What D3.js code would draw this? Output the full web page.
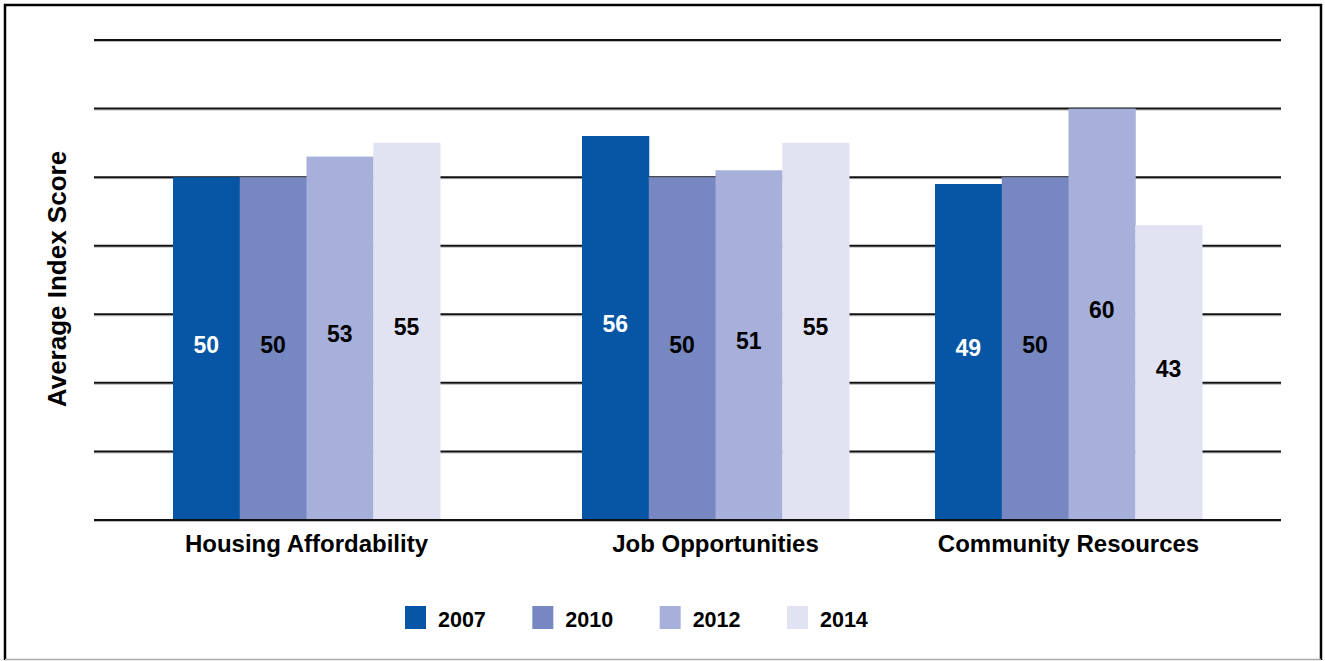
<!DOCTYPE html>
<html>
<head>
<meta charset="utf-8">
<script src="https://cdn.jsdelivr.net/npm/d3@7"></script>
<style>
  html, body { margin: 0; padding: 0; background: #fff; }
  svg { display: block; font-family: "Liberation Sans", Arial, Helvetica, sans-serif; font-weight: bold; }
</style>
</head>
<body>
<svg id="chart" width="1325" height="661"></svg>
<script>
// Average index scores by category and survey year
const categories = ["Housing Affordability", "Job Opportunities", "Community Resources"];
const years = ["2007", "2010", "2012", "2014"];
const scores2007 = [50, 56, 49];
const scores2010 = [50, 50, 50];
const scores2012 = [53, 51, 60];
const scores2014 = [55, 55, 43];
const yTicks = [0, 10, 20, 30, 40, 50, 60, 70];

const seriesValues = [scores2007, scores2010, scores2012, scores2014];
const colors = ["#0656A5", "#7687C1", "#A7B0DA", "#E1E3F3"];
const labelColors = ["#ffffff", "#000000", "#000000", "#000000"];

const svg = d3.select("#chart");

// outer frame
svg.append("path")
  .attr("d", "M5,660 L5,5 L1321,5 L1321,660")
  .attr("fill", "none").attr("stroke", "#000").attr("stroke-width", 2.5);
svg.append("line")
  .attr("x1", 5).attr("x2", 1321).attr("y1", 659.5).attr("y2", 659.5)
  .attr("stroke", "#aaa").attr("stroke-width", 1.5);

const plotLeft = 94, plotRight = 1281;
const y = d3.scaleLinear().domain([0, 70]).range([520, 40]);

// group centres along the category axis (the middle group sits a little right of centre)
const x0 = d3.scaleOrdinal().domain(categories).range([306.5, 715.5, 1068.5]);
const x1 = d3.scaleBand().domain(years).range([-133.5, 133.5]).padding(0);

// horizontal gridlines
const grid = svg.append("g");
grid.selectAll("line.shadow").data(yTicks).join("line")
  .attr("class", "shadow")
  .attr("x1", plotLeft).attr("x2", plotRight)
  .attr("y1", d => y(d) + 1.5).attr("y2", d => y(d) + 1.5)
  .attr("stroke", "#bbb").attr("stroke-width", 1);
grid.selectAll("line.main").data(yTicks).join("line")
  .attr("class", "main")
  .attr("x1", plotLeft).attr("x2", plotRight)
  .attr("y1", d => y(d)).attr("y2", d => y(d))
  .attr("stroke", "#111").attr("stroke-width", 2);

// bars
const rows = [];
categories.forEach((c, ci) => {
  years.forEach((yr, si) => {
    rows.push({ cat: c, year: yr, si, value: seriesValues[si][ci] });
  });
});

const bars = svg.append("g");
bars.selectAll("rect").data(rows).join("rect")
  .attr("x", d => x0(d.cat) + x1(d.year))
  .attr("width", x1.bandwidth() + 0.5)
  .attr("y", d => y(d.value))
  .attr("height", d => y(0) - y(d.value) - 1)
  .attr("fill", d => colors[d.si]);

// value labels inside bars
bars.selectAll("text").data(rows).join("text")
  .attr("x", d => x0(d.cat) + x1(d.year) + x1.bandwidth() / 2)
  .attr("y", d => (y(d.value) + y(0)) / 2 + 4)
  .attr("text-anchor", "middle")
  .attr("font-size", 23)
  .attr("fill", d => labelColors[d.si])
  .text(d => d.value);

// category axis labels
svg.append("g").selectAll("text").data(categories).join("text")
  .attr("x", d => x0(d))
  .attr("y", 552)
  .attr("text-anchor", "middle")
  .attr("font-size", 24)
  .attr("fill", "#000")
  .text(d => d);

// y axis title
svg.append("text")
  .attr("transform", "translate(66,279) rotate(-90)")
  .attr("text-anchor", "middle")
  .attr("font-size", 26)
  .attr("fill", "#000")
  .text("Average Index Score");

// legend
const legend = svg.append("g");
const lx = d3.scalePoint().domain(years).range([405, 787]);
const items = legend.selectAll("g").data(years).join("g")
  .attr("transform", d => `translate(${lx(d)},606)`);
items.append("rect")
  .attr("width", 21).attr("height", 23)
  .attr("fill", (d, i) => colors[i]);
items.append("text")
  .attr("x", 33).attr("y", 20.5)
  .attr("font-size", 21.5)
  .attr("fill", "#000")
  .text(d => d);
</script>
</body>
</html>
